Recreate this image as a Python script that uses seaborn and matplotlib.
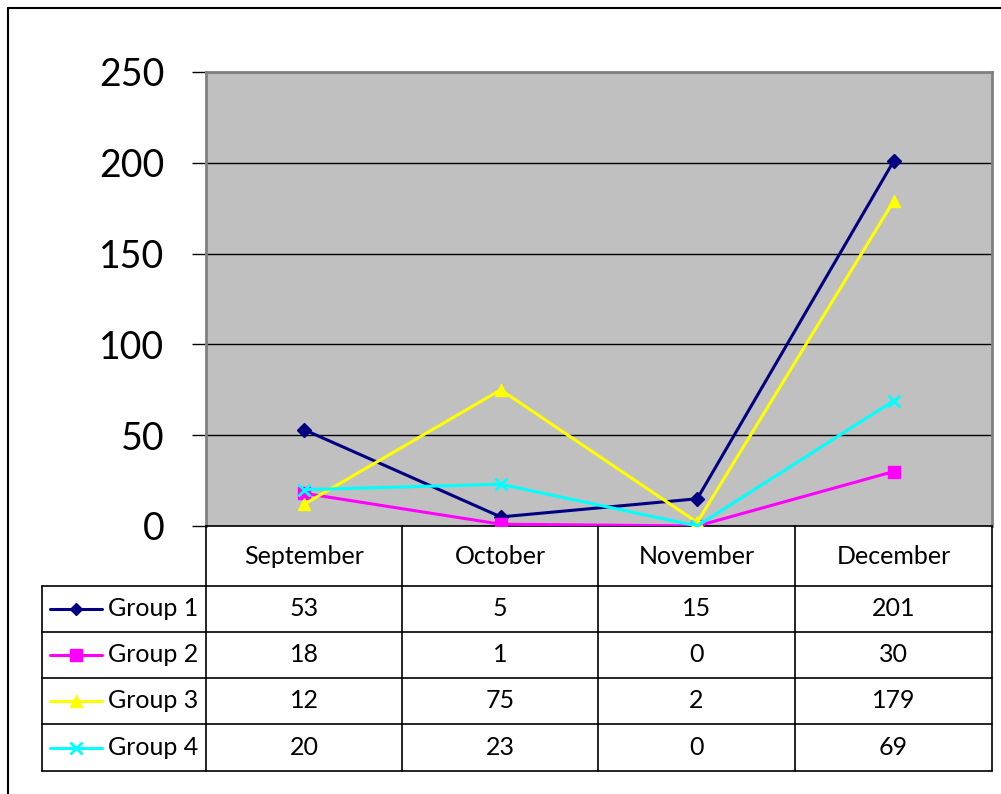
import matplotlib
matplotlib.use("Agg")
import matplotlib.pyplot as plt
import numpy as np
import pandas as pd
import seaborn as sns
from matplotlib.lines import Line2D

# chart data
months = ["September", "October", "November", "December"]
groups = ["Group 1", "Group 2", "Group 3", "Group 4"]
group1 = [53, 5, 15, 201]
group2 = [18, 1, 0, 30]
group3 = [12, 75, 2, 179]
group4 = [20, 23, 0, 69]
y_ticks = [0, 50, 100, 150, 200, 250]

colors = ["#000080", "#FF00FF", "#FFFF00", "#00FFFF"]
markers = ["D", "s", "^", "x"]
marker_sizes = [7, 9, 9, 9]

W, H = 1001, 794


def fx(x):
    return x / W


def fy(y):
    return 1 - y / H


data = pd.DataFrame({
    "month": months * 4,
    "group": np.repeat(groups, 4),
    "value": group1 + group2 + group3 + group4,
})

sns.set_style("white")
plt.rcParams['font.family'] = ['Lato', 'DejaVu Sans']
plt.rcParams['text.color'] = 'black'
plt.rcParams['ytick.color'] = 'black'

fig = plt.figure(figsize=(W / 100, H / 100), dpi=100)
fig.patch.set_facecolor("white")

# plot area
ax = fig.add_axes([fx(206), fy(526), fx(992) - fx(206), fy(72) - fy(526)])
ax.set_facecolor("#C0C0C0")

for g, c, m, ms in zip(groups, colors, markers, marker_sizes):
    sub = data[data["group"] == g]
    sns.lineplot(data=sub, x="month", y="value", ax=ax, color=c, marker=m,
                 markersize=ms, linewidth=2.2, markeredgecolor=c,
                 markeredgewidth=2 if m == "x" else 1, legend=False, zorder=3)

ax.set_xlim(-0.5, 3.5)
ax.set_ylim(0, 250)
ax.set_yticks(y_ticks)
ax.yaxis.grid(True, color="black", linewidth=1)
ax.set_axisbelow(True)
ax.set_xticks([])
ax.set_xlabel("")
ax.set_ylabel("")
ax.tick_params(axis="y", direction="out", length=10, width=1, color="black",
               left=True, pad=20, labelsize=27)
for side in ["left", "top", "right"]:
    ax.spines[side].set_color("#808080")
    ax.spines[side].set_linewidth(2)
ax.spines["bottom"].set_color("black")
ax.spines["bottom"].set_linewidth(1.2)

# outer chart border
fig.add_artist(Line2D([fx(8), fx(1001)], [fy(8), fy(8)], color="black", linewidth=1.5))
fig.add_artist(Line2D([fx(8), fx(8)], [fy(8), fy(794)], color="black", linewidth=1.5))

# data table under the chart
col_edges = [206, 402, 598, 795, 992]
row_edges = [526, 586, 632, 678, 724, 771]
line_kw = dict(color="black", linewidth=1.2)
table_fs = 18

for x in col_edges:
    fig.add_artist(Line2D([fx(x), fx(x)], [fy(526), fy(771)], **line_kw))
fig.add_artist(Line2D([fx(42), fx(42)], [fy(586), fy(771)], **line_kw))
for y in row_edges[1:]:
    fig.add_artist(Line2D([fx(42), fx(992)], [fy(y), fy(y)], **line_kw))

for i, mth in enumerate(months):
    cx = (col_edges[i] + col_edges[i + 1]) / 2
    fig.text(fx(cx), fy(556), mth, ha="center", va="center", fontsize=table_fs)

series = [group1, group2, group3, group4]
for r, (g, vals) in enumerate(zip(groups, series)):
    cy = (row_edges[r + 1] + row_edges[r + 2]) / 2
    key = Line2D([fx(50), fx(76), fx(102)], [fy(cy)] * 3, color=colors[r],
                 linewidth=2.2, marker=markers[r], markevery=[1],
                 markersize=marker_sizes[r] - 1, markeredgecolor=colors[r],
                 markeredgewidth=2 if markers[r] == "x" else 1)
    fig.add_artist(key)
    fig.text(fx(108), fy(cy), g, ha="left", va="center", fontsize=table_fs)
    for i, v in enumerate(vals):
        cx = (col_edges[i] + col_edges[i + 1]) / 2
        fig.text(fx(cx), fy(cy), str(v), ha="center", va="center", fontsize=table_fs)

plt.savefig("out.png", dpi=100, facecolor="white")
